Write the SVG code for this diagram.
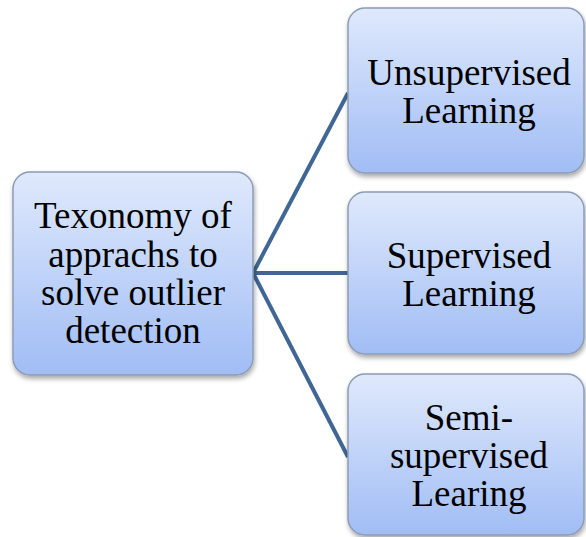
<svg xmlns="http://www.w3.org/2000/svg" width="586" height="537" viewBox="0 0 586 537">
  <defs>
    <linearGradient id="boxFill" x1="0" y1="0" x2="0" y2="1">
      <stop offset="0" stop-color="#dfe9fc"/>
      <stop offset="1" stop-color="#a1bdf5"/>
    </linearGradient>
    <filter id="shadow" x="-10%" y="-10%" width="120%" height="125%">
      <feGaussianBlur in="SourceAlpha" stdDeviation="2.5"/>
      <feOffset dx="1" dy="3" result="b"/>
      <feComponentTransfer><feFuncA type="linear" slope="0.35"/></feComponentTransfer>
      <feMerge><feMergeNode/><feMergeNode in="SourceGraphic"/></feMerge>
    </filter>
    <style>
      .box { fill: url(#boxFill); stroke: #8d9cb4; stroke-width: 1.5; filter: url(#shadow); }
      .lbl { font-size: 37px; fill: #000; text-anchor: middle; }
      .link { stroke: #3f6695; stroke-width: 4; fill: none; stroke-linecap: butt; }
    </style>
  </defs>
  <rect width="586" height="537" fill="#ffffff"/>

  <g id="connectors">
    <line class="link" x1="253" y1="273" x2="348" y2="93"/>
    <line class="link" x1="253" y1="273" x2="348" y2="273"/>
    <line class="link" x1="253" y1="273" x2="348" y2="457"/>
  </g>

  <g font-family="Liberation Serif, Tinos, Times New Roman, DejaVu Serif, serif">
    <g id="root">
      <rect class="box" x="13" y="172" width="240" height="203" rx="17"/>
      <text class="lbl" x="133" y="228">Texonomy of</text>
      <text class="lbl" x="133" y="267">apprachs to</text>
      <text class="lbl" x="133" y="305">solve outlier</text>
      <text class="lbl" x="133" y="343">detection</text>
    </g>

    <g id="unsupervised">
      <rect class="box" x="348" y="8" width="236" height="165" rx="17"/>
      <text class="lbl" x="469" y="85">Unsupervised</text>
      <text class="lbl" x="469" y="123">Learning</text>
    </g>

    <g id="supervised">
      <rect class="box" x="348" y="192" width="236" height="162" rx="17"/>
      <text class="lbl" x="469" y="268">Supervised</text>
      <text class="lbl" x="469" y="306">Learning</text>
    </g>

    <g id="semi-supervised">
      <rect class="box" x="348" y="374" width="236" height="161" rx="17"/>
      <text class="lbl" x="469" y="430">Semi-</text>
      <text class="lbl" x="469" y="468">supervised</text>
      <text class="lbl" x="469" y="506">Learing</text>
    </g>
  </g>
</svg>
